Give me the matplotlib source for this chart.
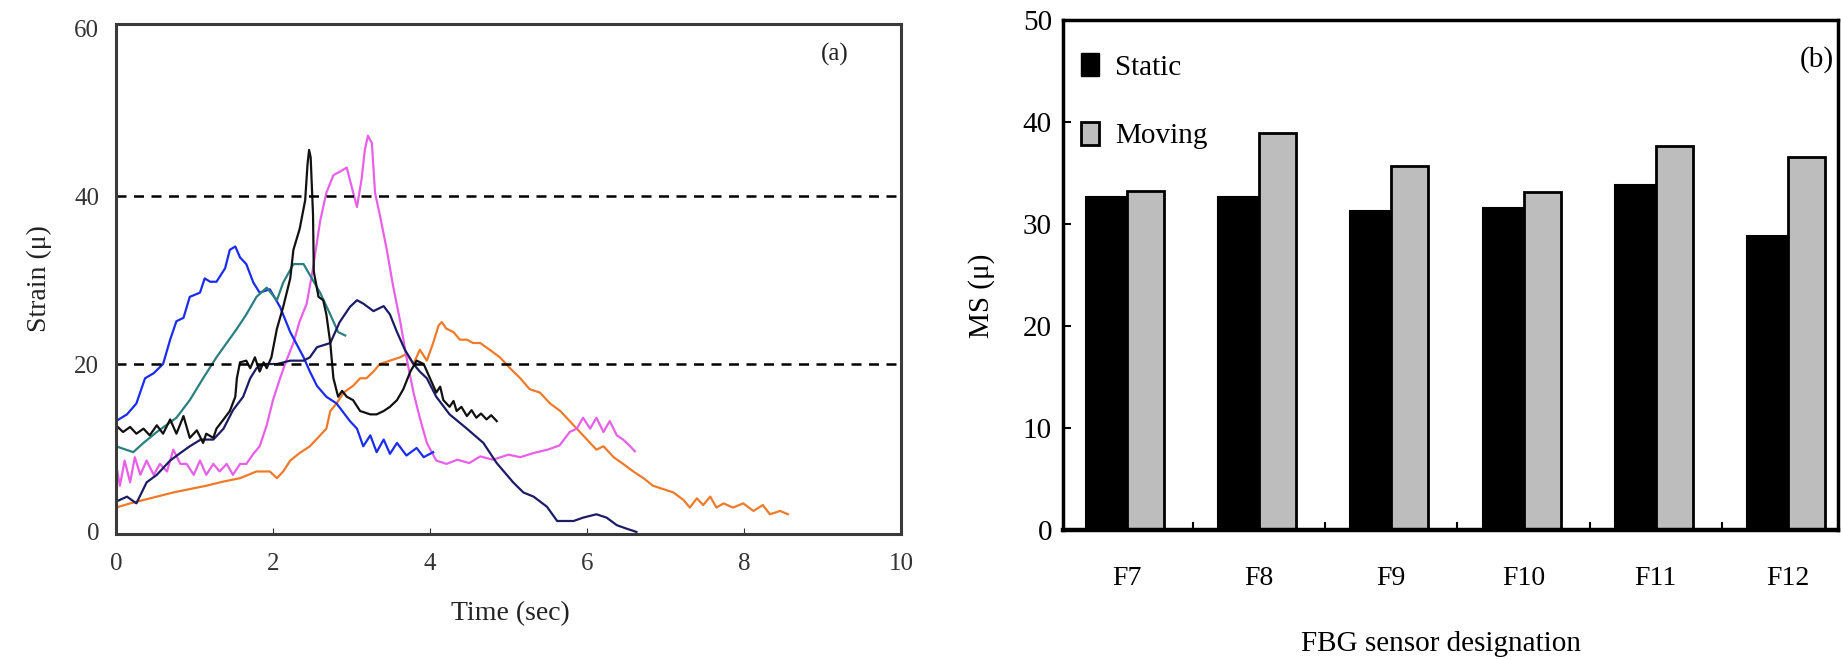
import matplotlib
matplotlib.use("Agg")
import matplotlib.pyplot as plt
from matplotlib.patches import Patch

plt.rcParams['font.family'] = ['Liberation Serif', 'DejaVu Serif']

# ---- (a) strain histories, time in sec / strain in micro-strain ----
t_blue = [0.00, 0.14, 0.26, 0.37, 0.48, 0.60, 0.69, 0.77, 0.86, 0.94, 1.07, 1.13, 1.20, 1.28,
          1.39, 1.45, 1.52, 1.58, 1.66, 1.75, 1.83, 1.96, 2.09, 2.22, 2.39, 2.47, 2.56, 2.68,
          2.81, 2.98, 3.07, 3.15, 3.24, 3.32, 3.41, 3.49, 3.58, 3.70, 3.83, 3.92, 4.04]
s_blue = [13.2, 14.0, 15.3, 18.3, 18.9, 20.0, 22.9, 25.1, 25.5, 28.0, 28.5, 30.2, 29.8, 29.8,
          31.4, 33.6, 34.0, 32.7, 31.9, 29.7, 28.5, 28.9, 26.8, 23.8, 20.8, 19.1, 17.4, 16.1,
          15.3, 13.2, 12.3, 10.2, 11.5, 9.5, 11.0, 9.3, 10.6, 9.1, 10.0, 8.9, 9.5]

t_teal = [0.00, 0.22, 0.35, 0.52, 0.77, 0.94, 1.11, 1.28, 1.41, 1.54, 1.66, 1.79, 1.92, 2.05,
          2.13, 2.26, 2.39, 2.47, 2.60, 2.73, 2.83, 2.92]
s_teal = [10.2, 9.5, 10.6, 11.9, 13.6, 15.7, 18.3, 20.8, 22.5, 24.2, 25.9, 28.0, 29.1, 27.6,
          29.7, 31.9, 31.9, 30.6, 28.5, 25.9, 23.8, 23.4]

t_navy = [0.00, 0.14, 0.26, 0.39, 0.52, 0.69, 0.82, 0.94, 1.08, 1.24, 1.37, 1.49, 1.62, 1.71,
          1.79, 1.88, 2.05, 2.22, 2.39, 2.47, 2.56, 2.73, 2.85, 2.98, 3.07, 3.15, 3.28, 3.41,
          3.49, 3.58, 3.68, 3.79, 3.87, 3.96, 4.08, 4.25, 4.47, 4.68, 4.85, 5.06, 5.19, 5.32,
          5.49, 5.62, 5.83, 5.95, 6.12, 6.25, 6.38, 6.50, 6.63]
s_navy = [3.6, 4.2, 3.4, 5.9, 6.8, 8.5, 9.4, 10.2, 11.0, 11.0, 12.3, 14.5, 16.1, 18.3,
          19.5, 20.0, 20.0, 20.4, 20.4, 20.8, 22.0, 22.5, 25.0, 26.8, 27.6, 27.2, 26.3, 26.9,
          25.9, 23.8, 21.7, 20.0, 19.1, 18.3, 16.1, 14.0, 12.3, 10.6, 8.2, 5.9, 4.7, 4.2,
          3.0, 1.3, 1.3, 1.7, 2.1, 1.7, 0.8, 0.4, 0.0]

t_black = [0.00, 0.09, 0.18, 0.26, 0.35, 0.43, 0.52, 0.60, 0.69, 0.77, 0.86, 0.94, 1.03, 1.11,
           1.15, 1.24, 1.28, 1.37, 1.45, 1.52, 1.54, 1.58, 1.66, 1.71, 1.77, 1.83, 1.88, 1.92,
           1.98, 2.05, 2.13, 2.22, 2.26, 2.34, 2.41, 2.44, 2.46, 2.48, 2.51, 2.52, 2.58, 2.64,
           2.68, 2.73, 2.77, 2.83, 2.88, 2.94, 3.02, 3.11, 3.24, 3.32, 3.41, 3.49, 3.58, 3.66,
           3.75, 3.83, 3.92, 4.00, 4.08, 4.13, 4.17, 4.25, 4.30, 4.34, 4.40, 4.47, 4.53, 4.59,
           4.65, 4.72, 4.78, 4.85]
s_black = [12.7, 11.9, 12.5, 11.7, 12.3, 11.5, 12.7, 11.7, 13.4, 11.7, 13.8, 11.2, 12.1, 10.6,
           11.7, 11.2, 12.3, 13.4, 14.4, 16.1, 18.3, 20.2, 20.4, 19.5, 20.8, 19.1, 20.2, 19.5,
           20.8, 24.2, 26.8, 30.2, 33.6, 36.1, 39.5, 43.8, 45.5, 44.6, 37.8, 31.0, 28.0, 27.6,
           25.9, 22.5, 18.3, 16.1, 16.8, 16.1, 15.7, 14.4, 14.0, 14.0, 14.4, 14.9, 15.7, 17.0,
           19.1, 20.4, 20.0, 18.3, 16.6, 17.3, 15.7, 14.9, 15.6, 14.4, 14.9, 13.8, 14.5, 13.6,
           14.1, 13.4, 13.9, 13.2]

t_magenta = [0.00, 0.05, 0.11, 0.18, 0.24, 0.31, 0.39, 0.48, 0.56, 0.65, 0.73, 0.82, 0.90, 0.99,
             1.07, 1.15, 1.24, 1.32, 1.41, 1.49, 1.58, 1.66, 1.75, 1.83, 1.92, 2.00, 2.09, 2.17,
             2.26, 2.34, 2.43, 2.51, 2.60, 2.68, 2.77, 2.85, 2.94, 3.00, 3.07, 3.13, 3.17, 3.21,
             3.26, 3.30, 3.36, 3.45, 3.53, 3.62, 3.70, 3.79, 3.87, 3.96, 4.08, 4.21, 4.35, 4.50,
             4.64, 4.80, 5.00, 5.15, 5.32, 5.50, 5.65, 5.78, 5.87, 5.95, 6.04, 6.12, 6.21, 6.29,
             6.38, 6.46, 6.55, 6.61]
s_magenta = [8.1, 5.5, 8.5, 5.9, 8.9, 6.8, 8.5, 6.8, 8.1, 7.2, 9.8, 8.1, 8.1, 6.8,
             8.5, 6.8, 8.1, 7.2, 8.1, 6.8, 8.1, 8.1, 9.3, 10.2, 12.7, 15.7, 18.3, 20.4,
             22.5, 25.1, 27.2, 31.4, 37.0, 40.4, 42.5, 42.9, 43.4, 41.2, 38.7, 42.1, 45.5, 47.2,
             46.3, 40.4, 37.8, 33.6, 29.3, 25.1, 20.8, 16.6, 13.6, 10.6, 8.5, 8.1, 8.6, 8.2,
             9.0, 8.6, 9.2, 8.9, 9.4, 9.8, 10.3, 11.9, 12.3, 13.6, 12.3, 13.6, 11.9, 13.2,
             11.5, 11.0, 10.2, 9.6]

t_orange = [0.00, 0.18, 0.35, 0.52, 0.73, 0.94, 1.15, 1.37, 1.58, 1.79, 1.96, 2.05, 2.13, 2.22,
            2.34, 2.47, 2.60, 2.68, 2.73, 2.81, 2.90, 3.02, 3.11, 3.19, 3.28, 3.36, 3.49, 3.62,
            3.70, 3.79, 3.87, 3.96, 4.04, 4.11, 4.15, 4.21, 4.30, 4.38, 4.47, 4.55, 4.64, 4.76,
            4.89, 5.02, 5.15, 5.27, 5.40, 5.53, 5.66, 5.78, 5.91, 6.04, 6.12, 6.21, 6.34, 6.46,
            6.59, 6.72, 6.84, 6.97, 7.10, 7.23, 7.31, 7.40, 7.48, 7.57, 7.65, 7.74, 7.86, 7.99,
            8.12, 8.24, 8.33, 8.46, 8.56]
s_orange = [2.9, 3.4, 3.8, 4.2, 4.7, 5.1, 5.5, 6.0, 6.4, 7.2, 7.2, 6.4, 7.2, 8.5,
            9.4, 10.2, 11.5, 12.3, 14.4, 15.3, 16.6, 17.4, 18.3, 18.3, 19.1, 20.0, 20.4, 20.8,
            21.2, 20.0, 21.7, 20.4, 22.5, 24.6, 25.0, 24.2, 23.8, 22.9, 22.9, 22.5, 22.5, 21.7,
            20.8, 19.5, 18.3, 17.0, 16.6, 15.3, 14.4, 13.2, 11.9, 10.6, 9.8, 10.2, 8.9, 8.1,
            7.2, 6.4, 5.5, 5.1, 4.7, 3.8, 2.9, 4.0, 3.2, 4.2, 2.9, 3.4, 2.9, 3.4,
            2.5, 3.2, 2.1, 2.5, 2.1]

limit_lines = [20, 40]

# ---- (b) maximum strain per FBG sensor ----
sensors = ['F7', 'F8', 'F9', 'F10', 'F11', 'F12']
ms_static = [32.6, 32.6, 31.3, 31.6, 33.8, 28.8]
ms_moving = [33.2, 38.9, 35.7, 33.1, 37.6, 36.6]

fig = plt.figure(figsize=(18.41, 6.6), dpi=100)

# -------- panel (a) --------
ax1 = fig.add_axes([0.0630, 0.1909, 0.4264, 0.7727])
series = [
    (t_orange, s_orange, '#f07a2a'),
    (t_magenta, s_magenta, '#e860e8'),
    (t_blue, s_blue, '#1a2cf0'),
    (t_teal, s_teal, '#2a8080'),
    (t_navy, s_navy, '#1c1c66'),
    (t_black, s_black, '#111111'),
]
for t, s, c in series:
    ax1.plot(t, s, color=c, linewidth=1.6)

for y in limit_lines:
    ax1.plot([0, 10], [y, y], color='black', linewidth=1.8, linestyle=(0, (4, 3)))

ax1.set_xlim(0, 10)
ax1.set_ylim(-0.25, 60.5)
ax1.set_xticks([0, 2, 4, 6, 8, 10])
ax1.set_yticks([0, 20, 40, 60])
ax1.tick_params(axis='x', direction='in', length=4, pad=14, labelsize=18, colors='#333333')
ax1.tick_params(axis='y', direction='in', length=0, pad=12, labelsize=18, colors='#333333')
for sp in ax1.spines.values():
    sp.set_color('#3a3a3a')
    sp.set_linewidth(2.2)

ax1.set_xlabel('Time (sec)', fontsize=20, color='#222222')
ax1.xaxis.set_label_coords(0.502, -0.132)
ax1.set_ylabel('Strain (\u03bc)', fontsize=20, color='#222222')
ax1.yaxis.set_label_coords(-0.082, 0.5)
ax1.text(0.915, 0.94, '(a)', transform=ax1.transAxes, fontsize=18,
         ha='center', va='center', color='#222222')

# -------- panel (b) --------
ax2 = fig.add_axes([0.5774, 0.197, 0.4210, 0.7727])
x = list(range(len(sensors)))
ax2.bar([i - 0.31 for i in x], ms_static, width=0.31, align='edge',
        color='black', edgecolor='black', linewidth=1.5)
ax2.bar(x, ms_moving, width=0.28, align='edge',
        color='#bdbdbd', edgecolor='black', linewidth=2.0)

ax2.set_xlim(-0.485, 5.38)
ax2.set_ylim(0, 50)
ax2.set_yticks([0, 10, 20, 30, 40, 50])
ax2.set_xticks(x)
ax2.set_xticklabels(sensors)
ax2.set_xticks([i + 0.5 for i in x[:-1]], minor=True)
ax2.tick_params(axis='x', which='major', length=0, pad=26, labelsize=20)
ax2.tick_params(axis='x', which='minor', direction='in', length=6, width=1.5)
ax2.tick_params(axis='y', direction='in', length=6, width=1.5, pad=8, labelsize=21)
for sp in ax2.spines.values():
    sp.set_color('black')
    sp.set_linewidth(2.5)
ax2.spines['bottom'].set_linewidth(3.2)

ax2.set_xlabel('FBG sensor designation', fontsize=21)
ax2.xaxis.set_label_coords(0.488, -0.198)
ax2.set_ylabel('MS (\u03bc)', fontsize=21)
ax2.yaxis.set_label_coords(-0.088, 0.46)
ax2.text(0.972, 0.923, '(b)', transform=ax2.transAxes, fontsize=21,
         ha='center', va='center')

handles = [Patch(facecolor='black', edgecolor='black', label='Static'),
           Patch(facecolor='#bdbdbd', edgecolor='black', linewidth=2, label='Moving')]
ax2.legend(handles=handles, loc='upper left', bbox_to_anchor=(0.023, 0.935),
           frameon=False, fontsize=21, handlelength=0.62, handleheight=0.85,
           handletextpad=0.55, labelspacing=1.4, borderpad=0, borderaxespad=0)

fig.savefig('out.png', dpi=100)
